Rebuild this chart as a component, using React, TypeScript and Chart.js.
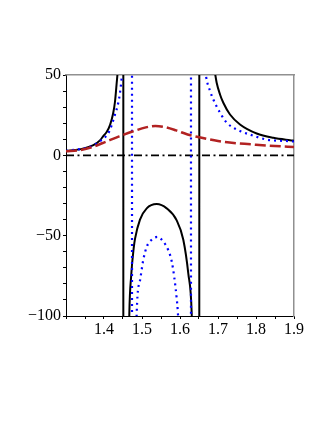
import React, { useEffect, useRef } from "react";
import { Chart, registerables } from "chart.js";

Chart.register(...registerables);

// Black solid curve (values beyond the visible range continue off-chart)
const blackX = [1.3, 1.335, 1.372, 1.39, 1.398, 1.407, 1.416, 1.424, 1.429, 1.433, 1.437, 1.441, 1.445, 1.449, 1.4505,
  1.4512, 1.453, 1.458, 1.4625, 1.4666, 1.4715, 1.478, 1.4816, 1.4947, 1.5124, 1.5387, 1.565, 1.5913, 1.6087, 1.6218, 1.6308, 1.638, 1.645, 1.6504,
  1.6512, 1.655, 1.66, 1.67, 1.68, 1.692, 1.6965, 1.7053, 1.714, 1.7316, 1.7579, 1.8018, 1.8456, 1.8895, 1.9];
const blackY = [2.8, 3.7, 6.3, 9.5, 12, 14.5, 19, 26, 33.5, 44, 56, 80, 135, 420, 3000,
  -3000, -1500, -400, -170, -99, -75, -58, -52, -40, -33, -30.3, -33, -40.5, -52.5, -73.5, -98.5, -180, -450, -3000,
  3000, 500, 230, 109, 72, 51.5, 45.2, 37.9, 32.7, 25.4, 19.2, 13.6, 10.9, 9.4, 9.1];

// Blue dotted curve
const blueX = [1.3, 1.3632, 1.3895, 1.414, 1.4289, 1.4376, 1.4421, 1.4466, 1.455, 1.4637, 1.4697, 1.4733,
  1.4741, 1.478, 1.482, 1.486, 1.4947, 1.5034, 1.5124, 1.5255, 1.5413, 1.556, 1.5692, 1.5782, 1.585, 1.5913, 1.594, 1.6, 1.61, 1.62, 1.6285,
  1.6293, 1.635, 1.645, 1.655, 1.6684, 1.6807, 1.6895, 1.7053, 1.7229, 1.7492, 1.7842, 1.8282, 1.8895, 1.9];
const blueY = [2.8, 5.3, 8.8, 15, 25.4, 32.7, 39, 48.4, 70, 130, 330, 3000,
  -3000, -400, -170, -98.5, -78, -65, -57, -52.5, -50.8, -53.7, -59, -66, -76, -89, -96.4, -125, -220, -500, -3000,
  3000, 330, 125, 77, 49.4, 39, 33.8, 26.5, 20.3, 16.1, 12.9, 9.8, 8.8, 8.6];

// Red dashed curve
const redX = [1.3, 1.335, 1.37, 1.405, 1.44, 1.475, 1.51, 1.535, 1.56, 1.59, 1.62, 1.65, 1.7, 1.75, 1.8, 1.85, 1.9];
const redY = [2.5, 3.2, 5.2, 8.5, 11.8, 14.8, 17.4, 18.3, 17.6, 15.5, 13.0, 11.3, 8.9, 7.5, 6.6, 5.8, 5.2];

// Zero reference line (dash-dot)
const zeroX = [1.3, 1.9];
const zeroY = [0, 0];

// Axis ticks and labels
const xTickValues = [1.3, 1.35, 1.4, 1.45, 1.5, 1.55, 1.6, 1.65, 1.7, 1.75, 1.8, 1.85, 1.9];
const xLabelValues = [1.4, 1.5, 1.6, 1.7, 1.8, 1.9];
const xLabelTexts = ["1.4", "1.5", "1.6", "1.7", "1.8", "1.9"];
const yTickValues = [-100, -90, -80, -70, -60, -50, -40, -30, -20, -10, 0, 10, 20, 30, 40, 50];
const yLabelValues = [-100, -50, 0, 50];
const yLabelTexts = ["\u2212100", "\u221250", "0", "50"];

const pts = (xs: number[], ys: number[]) => xs.map((x, i) => ({ x, y: ys[i] }));

const labelFor = (vals: number[], texts: string[]) => (v: number) => {
  const i = vals.findIndex((t) => Math.abs(t - v) < 1e-6);
  return i >= 0 ? texts[i] : "";
};

export default function App() {
  const ref = useRef<HTMLCanvasElement | null>(null);
  useEffect(() => {
    if (!ref.current) return;
    const font = { family: "'Liberation Serif', 'Times New Roman', serif", size: 16 };
    const xLab = labelFor(xLabelValues, xLabelTexts);
    const yLab = labelFor(yLabelValues, yLabelTexts);
    const chart = new Chart(ref.current, {
      type: "line",
      data: {
        datasets: [
          {
            data: pts(zeroX, zeroY),
            borderColor: "#000000",
            borderWidth: 1.6,
            borderDash: [8, 3.5, 2, 3.5],
            pointRadius: 0,
            order: 4,
          },
          {
            data: pts(blackX, blackY),
            borderColor: "#000000",
            borderWidth: 2,
            pointRadius: 0,
            cubicInterpolationMode: "monotone",
            order: 3,
          },
          {
            data: pts(blueX, blueY),
            borderColor: "#0000ff",
            borderWidth: 2.2,
            borderDash: [2, 4],
            pointRadius: 0,
            cubicInterpolationMode: "monotone",
            order: 2,
          },
          {
            data: pts(redX, redY),
            borderColor: "#b22222",
            borderWidth: 2.5,
            borderDash: [11, 4],
            pointRadius: 0,
            cubicInterpolationMode: "monotone",
            order: 1,
          },
        ],
      },
      options: {
        animation: false,
        responsive: false,
        maintainAspectRatio: false,
        events: [],
        layout: { padding: { top: 75, right: 33, left: 0, bottom: 0 } },
        plugins: { legend: { display: false }, tooltip: { enabled: false }, title: { display: false } },
        scales: {
          x: {
            type: "linear",
            position: "bottom",
            min: 1.3,
            max: 1.9,
            afterBuildTicks: (s: any) => {
              s.ticks = xTickValues.map((v) => ({ value: v }));
            },
            afterFit: (s: any) => {
              s.height = 107;
            },
            ticks: {
              autoSkip: false,
              maxRotation: 0,
              padding: 1,
              color: "#000000",
              font,
              callback: (v: any) => xLab(Number(v)),
            },
            grid: { drawOnChartArea: false, drawTicks: true, tickLength: 3, tickColor: "#000000", lineWidth: 1 },
            border: { display: true, color: "#000000", width: 1 },
          },
          y: {
            type: "linear",
            position: "left",
            min: -100,
            max: 50,
            afterBuildTicks: (s: any) => {
              s.ticks = yTickValues.map((v) => ({ value: v }));
            },
            afterFit: (s: any) => {
              s.width = 66;
            },
            ticks: {
              autoSkip: false,
              padding: 2,
              color: "#000000",
              font,
              callback: (v: any) => yLab(Number(v)),
            },
            grid: { drawOnChartArea: false, drawTicks: true, tickLength: 3, tickColor: "#000000", lineWidth: 1 },
            border: { display: true, color: "#000000", width: 1 },
          },
          xTop: {
            type: "linear",
            position: "top",
            min: 1.3,
            max: 1.9,
            afterFit: (s: any) => {
              s.height = 0;
            },
            ticks: { display: false },
            grid: { display: false, drawTicks: false },
            border: { display: true, color: "#909090", width: 1.5 },
          },
          yRight: {
            type: "linear",
            position: "right",
            min: -100,
            max: 50,
            afterFit: (s: any) => {
              s.width = 0;
            },
            ticks: { display: false },
            grid: { display: false, drawTicks: false },
            border: { display: true, color: "#909090", width: 1.5 },
          },
        },
      },
    } as any);
    return () => chart.destroy();
  }, []);
  return (
    <div style={{ position: "absolute", left: 0, top: 0, width: 327, height: 423, background: "#ffffff" }}>
      <canvas ref={ref} width={327} height={423} style={{ width: 327, height: 423, display: "block" }} />
    </div>
  );
}
